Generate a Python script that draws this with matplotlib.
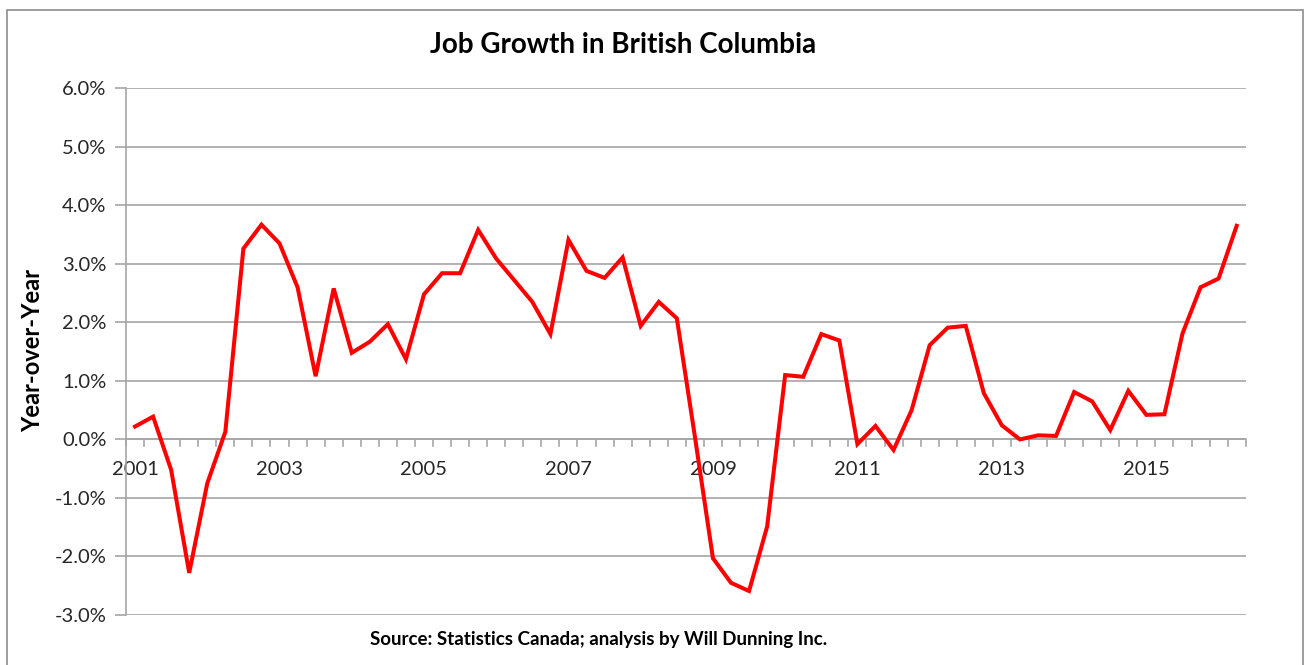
import matplotlib.pyplot as plt
import numpy as np
from matplotlib.patches import Rectangle
from matplotlib.ticker import FixedLocator, FuncFormatter

# quarterly year-over-year job growth, 2001 Q1 .. 2016 Q2 (%)
growth = [
    0.22, 0.39, -0.52, -2.28, -0.75, 0.13, 3.26, 3.67,
    3.35, 2.60, 1.08, 2.58, 1.48, 1.67, 1.97, 1.37,
    2.48, 2.84, 2.84, 3.58, 3.09, 2.72, 2.35, 1.80,
    3.41, 2.88, 2.76, 3.11, 1.94, 2.35, 2.07, 0.05,
    -2.03, -2.45, -2.59, -1.49, 1.10, 1.07, 1.80, 1.69,
    -0.08, 0.23, -0.18, 0.50, 1.61, 1.91, 1.94, 0.79,
    0.24, 0.00, 0.07, 0.06, 0.81, 0.65, 0.16, 0.83,
    0.42, 0.43, 1.81, 2.60, 2.75, 3.65,
]
first_year = 2001
label_years = [2001, 2003, 2005, 2007, 2009, 2011, 2013, 2015]
y_ticks = [-3, -2, -1, 0, 1, 2, 3, 4, 5, 6]

title = "Job Growth in British Columbia"
y_label = "Year-over-Year"
source = "Source: Statistics Canada; analysis by Will Dunning Inc."

plt.rcParams["font.family"] = ["Lato", "DejaVu Sans"]
grid_color = "#a6a6a6"

fig = plt.figure(figsize=(13.08, 6.65), dpi=100)
W, H = 1308, 665

# outer chart border
fig.patches.append(Rectangle((7 / W, -0.05), (1303 - 7) / W, 1.05 - 10 / H,
                             transform=fig.transFigure, fill=False,
                             edgecolor="#8c8c8c", lw=1.2))

ax = fig.add_axes([126 / W, 50 / H, (1245.7 - 126) / W, (615 - 88.3) / H])

x = np.arange(len(growth))
ax.plot(x, growth, color="#ff0000", lw=2.9, solid_joinstyle="miter", zorder=3)

ax.set_xlim(-0.5, len(growth) - 0.5)
ax.set_ylim(-3, 6)

for s in ["top", "right", "bottom"]:
    ax.spines[s].set_visible(False)
ax.spines["left"].set_color(grid_color)
ax.spines["left"].set_linewidth(1.2)

ax.set_yticks(y_ticks)
ax.yaxis.set_major_formatter(FuncFormatter(lambda v, _: f"{v:.1f}%"))
ax.tick_params(axis="y", length=8, color=grid_color, width=1.2,
               labelsize=14.5, labelcolor="#262626", pad=6)
ax.grid(axis="y", color=grid_color, lw=1.2, zorder=1)

# category axis crossing at zero: boundary ticks plus year labels
ax.axhline(0, color=grid_color, lw=1.2, zorder=2)
label_pos = [(yr - first_year) * 4 for yr in label_years]
ax.xaxis.set_major_locator(FixedLocator(label_pos))
ax.set_xticklabels([])
ax.tick_params(axis="x", which="both", length=0)
for b in np.arange(-0.5, len(growth), 1.0):
    ax.plot([b, b], [0, -0.12], color=grid_color, lw=1.2, zorder=2,
            clip_on=False)
for pos, yr in zip(label_pos, label_years):
    ax.text(pos, -0.52, str(yr), ha="center", va="center", fontsize=14.5,
            color="#262626", zorder=2)

fig.text(623 / W, 1 - 45 / H, title, ha="center", va="center",
         fontsize=20, fontweight="bold")
fig.text(33 / W, 1 - 351 / H, y_label, ha="center", va="center",
         rotation=90, fontsize=17, fontweight="bold")
fig.text(599 / W, 1 - 640 / H, source, ha="center", va="center",
         fontsize=13.5, fontweight="bold")

fig.savefig("out.png", dpi=100)
